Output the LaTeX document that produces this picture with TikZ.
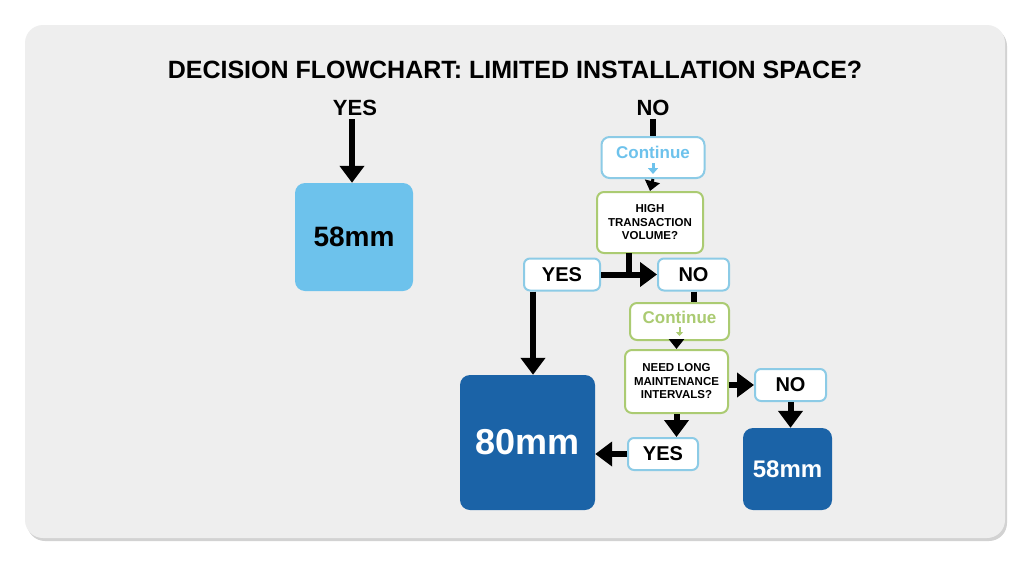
\documentclass[tikz,border=0pt]{standalone}
\usepackage{fontspec}
\setmainfont{Liberation Sans}
\usetikzlibrary{arrows.meta,shadows}
\definecolor{card}{HTML}{EEEEEE}
\definecolor{lblue}{HTML}{6DC2EC}
\definecolor{bord}{HTML}{8CCBE6}
\definecolor{grn}{HTML}{ABCB72}
\definecolor{dblue}{HTML}{1B63A7}
\begin{document}
\begin{tikzpicture}[x=1pt,y=-1pt,
  arr/.style={line width=6pt,-{Triangle[width=24pt,length=17pt]}},
  ln/.style={line width=6pt},
  lbl/.style={font=\bfseries\fontsize{22}{24}\selectfont},
  sbox/.style={draw=bord,line width=2pt,fill=white,rounded corners=6pt,font=\bfseries\fontsize{20}{22}\selectfont,minimum height=32pt,inner sep=0pt},
  qbox/.style={draw=grn,line width=2pt,fill=white,rounded corners=7pt,align=center,font=\bfseries\fontsize{11.5}{13.5}\selectfont,inner sep=0pt},
  big/.style={rounded corners=10pt,text=white,font=\bfseries,inner sep=0pt}]
\useasboundingbox (0,0) rectangle (1030,562);
\fill[white] (0,0) rectangle (1030,562);
\fill[card,rounded corners=18pt,drop shadow={opacity=0.35,shadow xshift=2pt,shadow yshift=-3pt}] (25,25) rectangle (1005,538);
\node[font=\bfseries\fontsize{25}{28}\selectfont] (title) at (515,70) {DECISION FLOWCHART: LIMITED INSTALLATION SPACE?};
\node[lbl] (yes0) at (355,108) {YES};
\node[fill=lblue,rounded corners=10pt,minimum width=118pt,minimum height=108pt,font=\bfseries\fontsize{28}{30}\selectfont] (b58a) at (354,237) {58mm};
\draw[arr] (yes0.south) ++(-3,0) coordinate (y0s) -- (y0s |- b58a.north);
\node[lbl] (no0) at (653,108) {NO};
\node[draw=bord,line width=2pt,fill=white,rounded corners=8pt,minimum width=103pt,minimum height=41pt,inner sep=0pt] (c1) at (653,157.5) {};
\node[text=lblue,font=\bfseries\fontsize{17}{19}\selectfont] (c1t) at (653,152) {Continue};
\draw[lblue,line width=3pt,-{Triangle[width=10pt,length=6pt]}] (653,163) -- (653,174);
\draw[ln] (no0.south) -- (c1.north);
\node[qbox,minimum width=106pt,minimum height=61pt] (q1) at (650,222.5) {HIGH\\TRANSACTION\\VOLUME?};
\draw[line width=3pt,-{Triangle[width=15pt,length=10pt]}] (c1.south) -- (q1.north);
\node[sbox,minimum width=76pt] (yes1) at (562,274.5) {YES};
\node[sbox,minimum width=71pt] (no1) at (693.5,274.5) {NO};
\draw[ln] (629,253) -- (629,277);
\draw[arr] (yes1.east) -- (no1.west);
\node[draw=grn,line width=2pt,fill=white,rounded corners=7pt,minimum width=99pt,minimum height=37pt,inner sep=0pt] (c2) at (679.5,321.5) {};
\node[text=grn,font=\bfseries\fontsize{17}{19}\selectfont] (c2t) at (679.5,317) {Continue};
\draw[grn,line width=2pt,-{Triangle[width=7pt,length=4pt]}] (679.5,327) -- (679.5,336);
\draw[ln] (no1.south) -- (no1.south |- c2.north);
\node[qbox,minimum width=103pt,minimum height=63pt] (q2) at (676.5,381.5) {NEED LONG\\MAINTENANCE\\INTERVALS?};
\draw[line width=3pt,-{Triangle[width=15pt,length=10pt]}] (c2.south -| q2.north) -- (q2.north);
\node[sbox,minimum width=71pt] (no2) at (790.5,385) {NO};
\draw[arr] (q2.east |- no2.west) -- (no2.west);
\node[big,fill=dblue,minimum width=89pt,minimum height=82pt,font=\bfseries\fontsize{24}{26}\selectfont] (b58b) at (787.5,469) {58mm};
\draw[arr] (no2.south) -- (no2.south |- b58b.north);
\node[sbox,minimum width=70pt] (yes2) at (663,454) {YES};
\draw[arr] (q2.south) -- (q2.south |- yes2.north);
\node[big,fill=dblue,minimum width=135pt,minimum height=135pt,font=\bfseries\fontsize{36}{38}\selectfont] (b80) at (527.5,442.5) {80mm};
\draw[arr] (yes2.west) -- (b80.east |- yes2.west);
\draw[arr] (yes1.south) ++(-29,0) coordinate (y1s) -- (y1s |- b80.north);
\end{tikzpicture}
\end{document}
